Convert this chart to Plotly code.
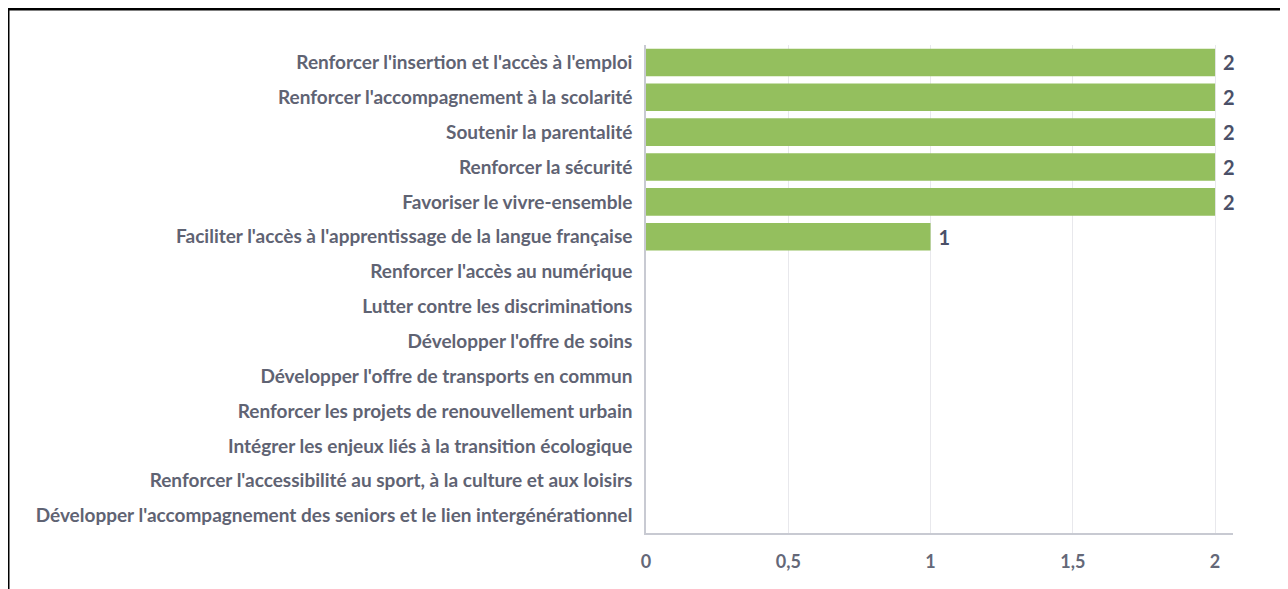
import plotly.graph_objects as go

categories = [
    "Renforcer l'insertion et l'accès à l'emploi",
    "Renforcer l'accompagnement à la scolarité",
    "Soutenir la parentalité",
    "Renforcer la sécurité",
    "Favoriser le vivre-ensemble",
    "Faciliter l'accès à l'apprentissage de la langue française",
    "Renforcer l'accès au numérique",
    "Lutter contre les discriminations",
    "Développer l'offre de soins",
    "Développer l'offre de transports en commun",
    "Renforcer les projets de renouvellement urbain",
    "Intégrer les enjeux liés à la transition écologique",
    "Renforcer l'accessibilité au sport, à la culture et aux loisirs",
    "Développer l'accompagnement des seniors et le lien intergénérationnel",
]
values = [2, 2, 2, 2, 2, 1, 0, 0, 0, 0, 0, 0, 0, 0]
tick_vals = [0, 0.5, 1, 1.5, 2]
tick_text = ["0", "0,5", "1", "1,5", "2"]

W, H = 1280, 581
ml, mr, mt, mb = 638, 55, 37, 56
pw, ph = W - ml - mr, H - mt - mb

def px_x(p):
    return (p - ml) / pw

def px_y(p):
    return (H - mb - p) / ph

fig = go.Figure()
fig.add_trace(go.Bar(
    y=categories,
    x=values,
    orientation="h",
    marker=dict(color="#94bf5e", line=dict(width=0)),
    text=[" " + str(v) if v else "" for v in values],
    textposition="outside",
    constraintext="none",
    textfont=dict(family="Lato", size=20, color="#4a5068", weight="bold"),
    cliponaxis=False,
    hoverinfo="x+y",
))

fig.update_layout(
    width=W, height=H,
    margin=dict(l=ml, r=mr, t=mt, b=mb),
    paper_bgcolor="white",
    plot_bgcolor="white",
    bargap=0.21,
    showlegend=False,
    font=dict(family="Lato", size=17, color="#646878"),
    shapes=[
        dict(type="line", xref="paper", yref="paper",
             x0=px_x(0.5), x1=px_x(0.5), y0=px_y(0), y1=px_y(600),
             line=dict(color="black", width=2)),
        dict(type="line", xref="paper", yref="paper",
             x0=px_x(0), x1=px_x(1300), y0=px_y(1), y1=px_y(1),
             line=dict(color="black", width=3)),
    ],
)
fig.update_yaxes(
    categoryorder="array", categoryarray=categories[::-1],
    range=[-0.5, len(categories) - 0.5],
    showline=True, linecolor="#c8cad2", linewidth=1.5,
    ticks="", ticklen=0, ticklabelstandoff=8,
    tickfont=dict(family="Lato", size=19, color="#5f6373", weight="bold"),
    showgrid=False,
)
fig.update_xaxes(
    range=[0, 2.063],
    tickvals=tick_vals, ticktext=tick_text,
    showgrid=True, gridcolor="#e8e8ec", gridwidth=1,
    showline=True, linecolor="#c8cad2", linewidth=1.5,
    zeroline=False,
    ticks="", ticklabelstandoff=12,
    tickfont=dict(family="Lato", size=18, color="#646878", weight="bold"),
)

fig.write_html("out.html")
